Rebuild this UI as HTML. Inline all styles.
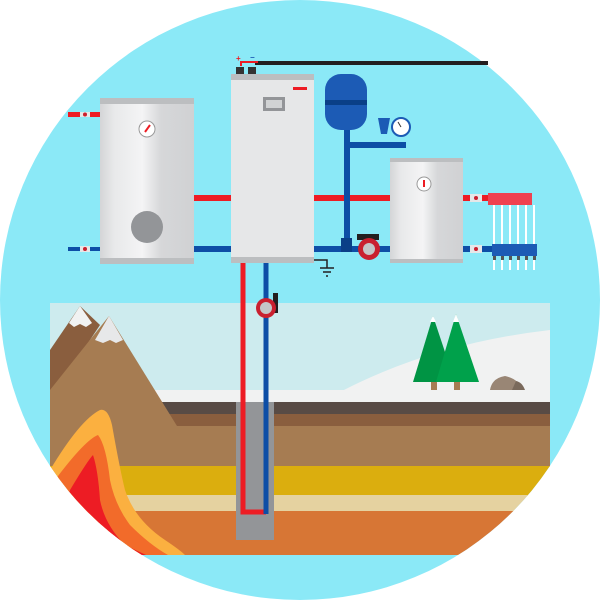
<!DOCTYPE html>
<html><head><meta charset="utf-8"><style>html,body{margin:0;padding:0;background:#fff}svg{display:block}</style></head><body>
<svg width="600" height="600" viewBox="0 0 600 600" xmlns="http://www.w3.org/2000/svg">
<defs>
<clipPath id="c"><circle cx="300" cy="300" r="300"/></clipPath>
<linearGradient id="tank" x1="0" x2="1"><stop offset="0" stop-color="#d4d5d7"/><stop offset="0.15" stop-color="#e8e9ea"/><stop offset="0.45" stop-color="#f4f4f5"/><stop offset="0.65" stop-color="#d6d7d9"/><stop offset="1" stop-color="#d0d1d3"/></linearGradient>
</defs>
<circle cx="300" cy="300" r="300" fill="#8be9f7"/>
<g clip-path="url(#c)">
<!-- scene -->
<rect x="50" y="303" width="500" height="100" fill="#cdebee"/>
<path d="M320 403 Q420 345 550 330 L550 403 Z" fill="#f1f2f2"/>
<rect x="50" y="390" width="500" height="13" fill="#f1f2f2"/>
<rect x="50" y="402" width="500" height="12" fill="#584b45"/>
<rect x="50" y="414" width="500" height="12" fill="#8a5e3e"/>
<rect x="50" y="426" width="500" height="41" fill="#a67c52"/>
<rect x="50" y="466" width="500" height="30" fill="#dbae0e"/>
<rect x="50" y="495" width="500" height="17" fill="#e5d2a0"/>
<rect x="50" y="511" width="500" height="44" fill="#d77635"/>
<!-- mountains -->
<polygon points="50,350 80,306 100,325 50,400" fill="#8a5e3e"/>
<polygon points="50,390 109,316 177,426 50,426" fill="#a67c52"/>
<polygon points="69,323 80,306 92,323 86,327 80,324 74,327" fill="#f1f2f2"/>
<polygon points="95,340 109,316 123,340 116,343 110,340 103,343" fill="#e7e8e9"/>
<!-- lava -->
<path d="M50 470 Q80 420 100 410 Q108 408 112 425 Q120 470 125 490 Q135 520 165 540 Q180 550 185 555 L50 555 Z" fill="#fbb040"/>
<path d="M55 480 Q85 440 98 435 Q106 445 110 480 Q115 505 130 525 Q150 545 168 555 L50 555 Z" fill="#f26b2a"/>
<path d="M70 490 Q88 460 93 455 Q98 470 100 500 Q105 525 125 545 L146 555 L50 555 Z" fill="#ed1c24"/>
<!-- trees -->
<rect x="431" y="380" width="6" height="10" fill="#a67c52"/>
<rect x="454" y="380" width="6" height="10" fill="#a67c52"/>
<polygon points="433,316 413,382 455,382" fill="#009444"/>
<polygon points="456,314 436,382 479,382" fill="#00a14b"/>
<polygon points="433,316 436,322 430,322" fill="#fff"/>
<polygon points="456,314 459,322 453,322" fill="#fff"/>
<!-- rock -->
<path d="M490 390 Q492 378 505 376 Q515 378 520 385 L525 390 Z" fill="#998675"/>
<path d="M512 390 L516 381 Q522 382 525 390 Z" fill="#7a6a5c"/>
<!-- well -->
<rect x="236" y="402" width="38" height="138" fill="#939598"/>
</g>
<!-- pipes from boiler to well -->
<path d="M243 263 V512 H266" fill="none" stroke="#ed1c24" stroke-width="5"/>
<path d="M266 263 V514" fill="none" stroke="#0d4ea6" stroke-width="5"/>
<!-- vertical pump -->
<rect x="273" y="293" width="5" height="20" fill="#231f20"/>
<circle cx="266" cy="308" r="10" fill="#c9202f"/>
<circle cx="266" cy="308" r="6" fill="#c4c6c8"/>
<!-- horizontal pipes -->
<rect x="68" y="112" width="32" height="5" fill="#ed1c24"/>
<rect x="68" y="247" width="32" height="4" fill="#0d4ea6"/>
<rect x="80" y="112" width="10" height="5" fill="#e6e7e8"/><circle cx="85" cy="114.5" r="2" fill="#c9202f"/>
<rect x="80" y="246" width="10" height="6" fill="#e6e7e8"/><circle cx="85" cy="249" r="2" fill="#c9202f"/>
<rect x="194" y="195" width="37" height="6" fill="#ed1c24"/>
<rect x="194" y="246" width="37" height="6" fill="#0d4ea6"/>
<rect x="314" y="195" width="76" height="6" fill="#ed1c24"/>
<rect x="314" y="246" width="76" height="6" fill="#0d4ea6"/>
<rect x="463" y="195" width="25" height="6" fill="#ed1c24"/>
<rect x="463" y="246" width="30" height="6" fill="#0d4ea6"/>
<rect x="470" y="194" width="12" height="8" fill="#e6e7e8"/><circle cx="476" cy="198" r="2" fill="#c9202f"/>
<rect x="470" y="245" width="12" height="8" fill="#e6e7e8"/><circle cx="476" cy="249" r="2" fill="#c9202f"/>
<!-- manifolds -->
<g stroke="#fff" stroke-width="2">
<line x1="494" y1="205" x2="494" y2="270"/><line x1="502" y1="205" x2="502" y2="270"/><line x1="510" y1="205" x2="510" y2="270"/><line x1="518" y1="205" x2="518" y2="270"/><line x1="526" y1="205" x2="526" y2="270"/><line x1="534" y1="205" x2="534" y2="270"/>
</g>
<rect x="488" y="193" width="44" height="12" fill="#ef4150"/>
<rect x="492" y="244" width="45" height="12" fill="#1c5bb5"/>
<g fill="#555"><rect x="493" y="256" width="3" height="4"/><rect x="501" y="256" width="3" height="4"/><rect x="509" y="256" width="3" height="4"/><rect x="517" y="256" width="3" height="4"/><rect x="525" y="256" width="3" height="4"/><rect x="533" y="256" width="3" height="4"/></g>
<!-- expansion vessel -->
<rect x="344" y="128" width="6" height="122" fill="#0d4ea6"/>
<rect x="344" y="142" width="62" height="6" fill="#0d4ea6"/>
<rect x="341" y="238" width="11" height="14" fill="#0a3f87"/>
<rect x="325" y="74" width="42" height="56" rx="16" fill="#1c5bb5"/>
<rect x="325" y="100" width="42" height="5" fill="#0a3f87"/>
<polygon points="378,118 390,118 387,134 381,134" fill="#1c5bb5"/>
<circle cx="401" cy="127" r="9" fill="#fff" stroke="#1c5bb5" stroke-width="2"/>
<line x1="401" y1="127" x2="398" y2="122" stroke="#333" stroke-width="1"/>
<!-- pump horizontal -->
<rect x="357" y="234" width="22" height="6" fill="#231f20"/>
<circle cx="369" cy="249" r="11" fill="#c9202f"/>
<circle cx="369" cy="249" r="6" fill="#c4c6c8"/>
<!-- black cable -->
<rect x="255" y="61" width="233" height="4" fill="#231f20"/>
<path d="M241 66 V62 H258" stroke="#ed1c24" stroke-width="2" fill="none"/>
<rect x="236" y="67" width="8" height="7" fill="#333"/><rect x="248" y="67" width="8" height="7" fill="#333"/>
<text x="236" y="61" font-family="Liberation Sans, sans-serif" font-size="8" fill="#ed1c24" font-weight="bold">+</text>
<text x="250" y="60" font-family="Liberation Sans, sans-serif" font-size="8" fill="#1c5bb5" font-weight="bold">−</text>
<!-- left tank -->
<rect x="100" y="98" width="94" height="166" fill="url(#tank)"/>
<rect x="100" y="98" width="94" height="6" fill="#bcbec0"/>
<rect x="100" y="258" width="94" height="6" fill="#bcbec0"/>
<circle cx="147" cy="227" r="16" fill="#939598"/>
<circle cx="147" cy="129" r="8" fill="#fff" stroke="#999" stroke-width="1"/>
<line x1="145" y1="132" x2="150" y2="125" stroke="#ed1c24" stroke-width="2"/>
<!-- boiler -->
<rect x="231" y="74" width="83" height="189" fill="#e6e7e8"/>
<rect x="231" y="74" width="83" height="6" fill="#bcbec0"/>
<rect x="231" y="257" width="83" height="6" fill="#bcbec0"/>
<rect x="293" y="87" width="14" height="3" fill="#ed1c24"/>
<rect x="263" y="97" width="22" height="14" fill="#939598"/>
<rect x="266" y="100" width="16" height="8" fill="#d1d3d4"/>
<!-- ground symbol -->
<path d="M314 260 H327 V268 M320 268 H334 M323 272 H331 M326 276 H328" stroke="#231f20" stroke-width="1.5" fill="none"/>
<!-- right tank -->
<rect x="390" y="158" width="73" height="105" fill="url(#tank)"/>
<rect x="390" y="158" width="73" height="4" fill="#bcbec0"/>
<rect x="390" y="259" width="73" height="4" fill="#bcbec0"/>
<circle cx="424" cy="184" r="7" fill="#fff" stroke="#999" stroke-width="1"/>
<line x1="424" y1="187" x2="424" y2="180" stroke="#ed1c24" stroke-width="2"/>
</svg>
</body></html>
